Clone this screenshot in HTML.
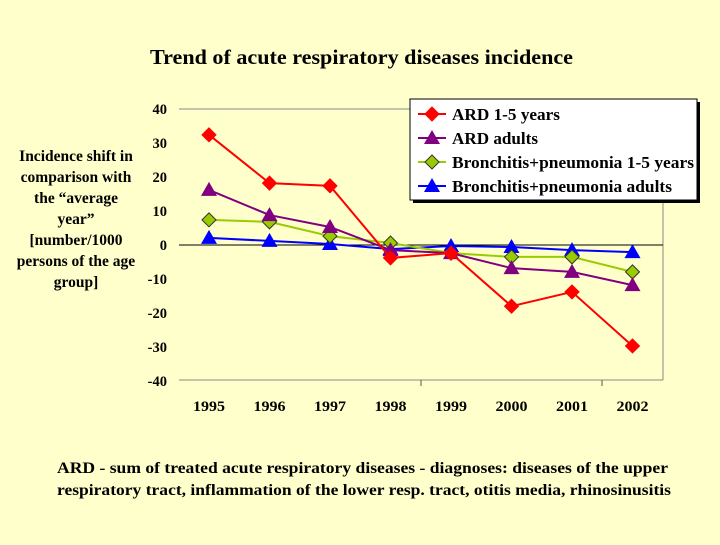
<!DOCTYPE html>
<html><head><meta charset="utf-8"><style>
body{margin:0;background:#ffffcc;}
svg text{font-family:"Liberation Serif",serif;font-weight:bold;fill:#000;}
</style></head><body>
<svg width="720" height="540" xmlns="http://www.w3.org/2000/svg">
<rect width="720" height="540" fill="#ffffcc"/>
<text x="150" y="64" font-size="21" textLength="423" lengthAdjust="spacingAndGlyphs">Trend of acute respiratory diseases incidence</text>
<g font-size="15.5" text-anchor="middle">
<text x="76" y="161">Incidence shift in</text>
<text x="76" y="182">comparison with</text>
<text x="76" y="203">the “average</text>
<text x="76" y="224">year”</text>
<text x="76" y="245">[number/1000</text>
<text x="76" y="266">persons of the age</text>
<text x="76" y="287">group]</text>
</g>
<line x1="179" y1="109" x2="663" y2="109" stroke="#888"/>
<line x1="663" y1="109" x2="663" y2="380" stroke="#888"/>
<line x1="179" y1="380" x2="663" y2="380" stroke="#888"/>
<line x1="421" y1="380" x2="421" y2="386" stroke="#555"/>
<line x1="602" y1="380" x2="602" y2="386" stroke="#555"/>
<g id="yt"></g><g id="xt"></g>
<line id="zero" x1="179" x2="663" stroke="#000"/>
<g id="series"></g>
<g>
<rect x="413" y="102" width="287" height="101" fill="#000"/>
<rect x="410" y="99" width="287" height="101" fill="#fff" stroke="#000"/>
<g id="leg"></g>
</g>
<g font-size="16">
<text x="57" y="473" textLength="611" lengthAdjust="spacingAndGlyphs">ARD  - sum of treated acute respiratory diseases - diagnoses: diseases of the upper</text>
<text x="57" y="495" textLength="614" lengthAdjust="spacingAndGlyphs">respiratory tract, inflammation of the lower resp. tract, otitis media, rhinosinusitis</text>
</g>
</svg>
<script>
const years=["1995","1996","1997","1998","1999","2000","2001","2002"];
const yTicks=[40,30,20,10,0,-10,-20,-30,-40];
const ard15=[32.4,18.2,17.4,-3.8,-2.4,-18,-13.8,-29.7];
const ardAdults=[16.2,8.8,5.3,-1.5,-2.4,-6.8,-7.9,-11.8];
const bp15=[7.4,6.8,2.6,0.6,-2.4,-3.5,-3.5,-7.9];
const bpAdults=[2.1,1.2,0.3,-1.2,-0.3,-0.6,-1.5,-2.1];
const names=["ARD 1-5 years","ARD adults","Bronchitis+pneumonia 1-5 years","Bronchitis+pneumonia adults"];
const NS="http://www.w3.org/2000/svg";
const y=v=>245-v*3.4;
const x=i=>209+i*60.5;
function mk(t,a,p){const e=document.createElementNS(NS,t);for(const k in a)e.setAttribute(k,a[k]);p.appendChild(e);return e;}
document.getElementById('zero').setAttribute('y1',y(0));
document.getElementById('zero').setAttribute('y2',y(0));
const yt=document.getElementById('yt');
yTicks.forEach(v=>{const t=mk('text',{x:167,y:y(v)+5,'font-size':14.5,'text-anchor':'end'},yt);t.textContent=v;

});
const xt=document.getElementById('xt');
years.forEach((yr,i)=>{const t=mk('text',{x:x(i),y:411,'font-size':15,'text-anchor':'middle',textLength:32,lengthAdjust:'spacingAndGlyphs'},xt);t.textContent=yr;

});
const series=[[bpAdults,"#0000ff","tri",2],[bp15,"#99cc00","dia",2],[ardAdults,"#800080","tri",2],[ard15,"#ff0000","dia",2]];
const sg=document.getElementById('series');
function marker(cx,cy,type,col,g){
 if(type==='dia'){const s=7;return mk('polygon',{points:`${cx},${cy-s} ${cx+s},${cy} ${cx},${cy+s} ${cx-s},${cy}`,fill:col,stroke:col==="#99cc00"?"#333":col},g);}
 const s=8;return mk('polygon',{points:`${cx},${cy-s} ${cx+s},${cy+6} ${cx-s},${cy+6}`,fill:col},g);
}
series.forEach(([d,col,type,w])=>{
 const g=mk('g',{},sg);
 
 
 mk('polyline',{points:d.map((v,i)=>x(i)+','+y(v)).join(' '),fill:'none',stroke:col,'stroke-width':w},g);
 d.forEach((v,i)=>{const m=marker(x(i),y(v),type,col,g);
 
 });
});
const leg=document.getElementById('leg');
const lc=[["#ff0000","dia"],["#800080","tri"],["#99cc00","dia"],["#0000ff","tri"]];
const legW=[108,86,242,220];
names.forEach((n,i)=>{const ly=114+i*24;const g=mk('g',{},leg);
 
 
 mk('line',{x1:418,x2:446,y1:ly,y2:ly,stroke:lc[i][0],'stroke-width':2},g);
 marker(432,ly,lc[i][1],lc[i][0],g);
 const t=mk('text',{x:452,y:ly+6,'font-size':17,textLength:legW[i],lengthAdjust:'spacingAndGlyphs'},g);t.textContent=n;});
</script>
</body></html>
